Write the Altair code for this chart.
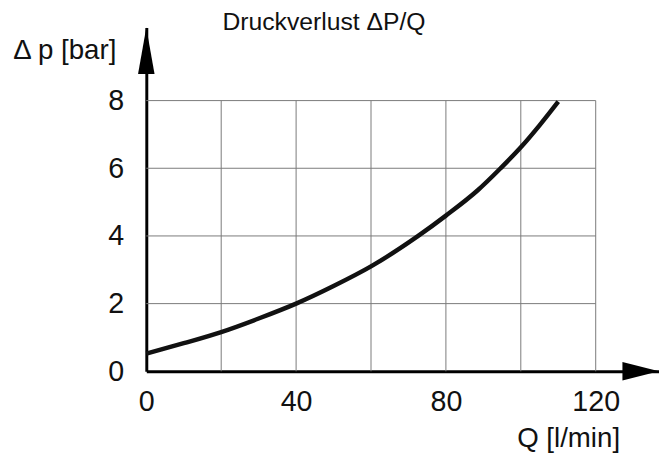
import altair as alt
import pandas as pd

# Curve: flow Q [l/min] vs pressure loss [bar]
q_values = [0, 10, 20, 30, 40, 50, 60, 72.6, 80, 88.5, 94.6, 100, 105, 110]
dp_values = [0.52, 0.83, 1.16, 1.56, 2.0, 2.52, 3.1, 4.0, 4.6, 5.35, 6.0, 6.62, 7.27, 7.97]

x_ticks = [0, 40, 80, 120]
y_ticks = [0, 2, 4, 6, 8]
x_grid = [20, 40, 60, 80, 100, 120]
y_grid = [2, 4, 6, 8]
grid_x_max = 120
grid_y_max = 8
x_axis_end = 136.9
y_axis_end = 10.16

FONT = "Liberation Sans"

curve_df = pd.DataFrame({"Q": q_values, "dp": dp_values})
vgrid_df = pd.DataFrame({"Q": x_grid, "y0": [0] * len(x_grid), "y1": [grid_y_max] * len(x_grid)})
hgrid_df = pd.DataFrame({"dp": y_grid, "x0": [0] * len(y_grid), "x1": [grid_x_max] * len(y_grid)})
yarrow_df = pd.DataFrame({"Q": [0], "dp": [y_axis_end]})
xarrow_df = pd.DataFrame({"Q": [x_axis_end], "dp": [0]})

xscale = alt.Scale(domain=[0, x_axis_end], nice=False, zero=False)
yscale = alt.Scale(domain=[0, y_axis_end], nice=False, zero=False)

x_axis = alt.Axis(
    values=x_ticks, grid=False, ticks=False, tickSize=0, domain=True,
    domainColor="black", domainWidth=3, labelFont=FONT, labelFontSize=29,
    labelColor="#111111", labelPadding=17, labelFlush=False,
    title="Q [l/min]", titleFont=FONT, titleFontSize=28, titleFontWeight="normal",
    titleColor="#111111", titleX=427, titleY=76, titleAlign="center",
    titleBaseline="alphabetic", titleAnchor="start",
)
y_axis = alt.Axis(
    values=y_ticks, grid=False, ticks=False, tickSize=0, domain=True,
    domainColor="black", domainWidth=3, labelFont=FONT, labelFontSize=29,
    labelColor="#111111", labelPadding=23, labelFlush=False,
    title="Δ p [bar]", titleFont=FONT, titleFontSize=28, titleFontWeight="normal",
    titleColor="#111111", titleAngle=0, titleX=-83, titleY=23, titleAlign="center",
    titleBaseline="middle", titleAnchor="start",
)

vgrid = alt.Chart(vgrid_df).mark_rule(color="#7a7a7a", strokeWidth=1).encode(
    x=alt.X("Q:Q", scale=xscale, axis=x_axis),
    y=alt.Y("y0:Q", scale=yscale, axis=y_axis),
    y2="y1:Q",
)
hgrid = alt.Chart(hgrid_df).mark_rule(color="#7a7a7a", strokeWidth=1).encode(
    y=alt.Y("dp:Q", scale=yscale),
    x=alt.X("x0:Q", scale=xscale),
    x2="x1:Q",
)
curve = alt.Chart(curve_df).mark_line(
    color="#111111", strokeWidth=4.5, interpolate="monotone", strokeCap="butt"
).encode(
    x=alt.X("Q:Q", scale=xscale),
    y=alt.Y("dp:Q", scale=yscale),
)
yarrow = alt.Chart(yarrow_df).mark_point(
    shape="M0,0 L0.355,2 L-0.355,2 Z", size=2209, filled=True,
    color="black", opacity=1, strokeWidth=0,
).encode(x=alt.X("Q:Q", scale=xscale), y=alt.Y("dp:Q", scale=yscale))
xarrow = alt.Chart(xarrow_df).mark_point(
    shape="M0,0 L-2,-0.51 L-2,0.51 Z", size=1369, filled=True,
    color="black", opacity=1, strokeWidth=0,
).encode(x=alt.X("Q:Q", scale=xscale), y=alt.Y("dp:Q", scale=yscale))

chart = alt.layer(vgrid, hgrid, curve, yarrow, xarrow).properties(
    width=519,
    height=348,
    autosize=alt.AutoSizeParams(type="none"),
    padding={"left": 140, "top": 17, "right": 0, "bottom": 82},
    background="white",
    title=alt.TitleParams(
        "Druckverlust ΔP/Q", font=FONT, fontSize=25, fontWeight="normal",
        color="#111111", anchor="start", dx=213, dy=28, offset=0,
        baseline="alphabetic",
    ),
).configure_view(stroke=None)

chart.save("out.html", embed_options={"renderer": "svg", "actions": False})
